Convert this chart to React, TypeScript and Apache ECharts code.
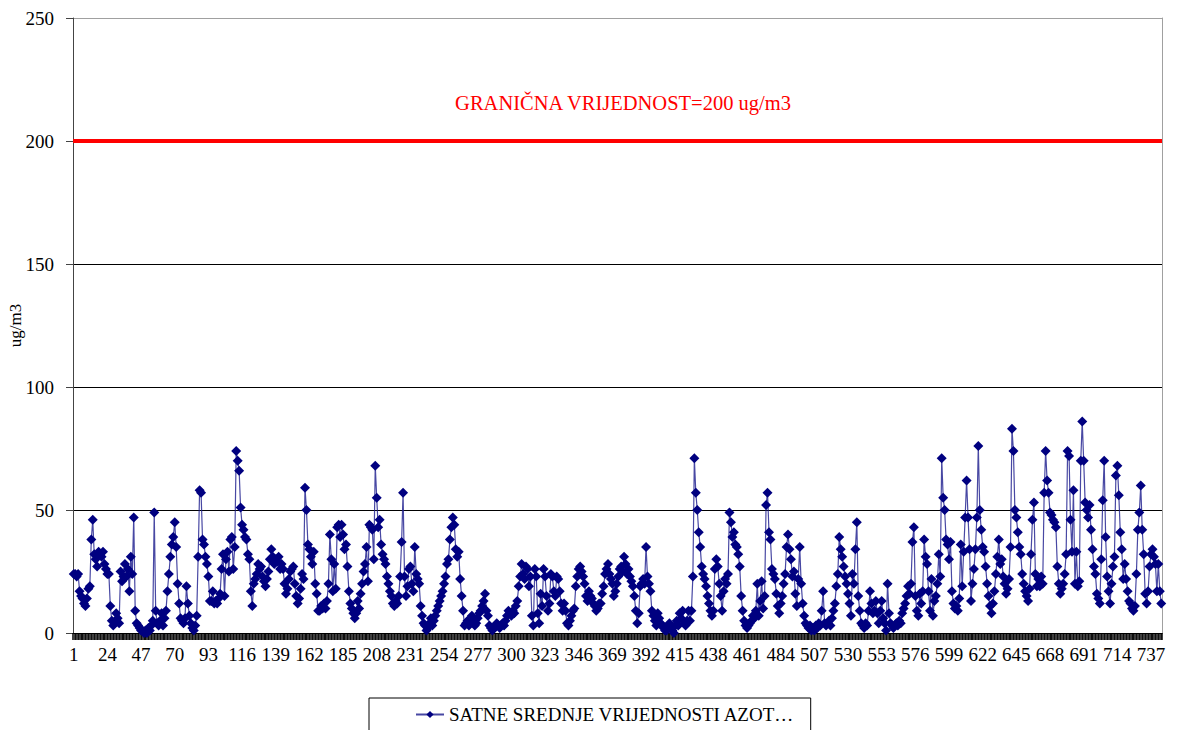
import React, { useEffect, useRef } from "react";
import * as echarts from "echarts";

// Hourly averages, one row per day (31 days x 24 hours)
const day01 = [24,24,23,24,17,15,14,12,11,14,18,19,38,46,32,30,27,33,32,31,33,28,26,24];
const day02 = [24,11,5,3,4,8,6,4,25,21,23,28,23,26,17,31,24,47,9,4,3,2,1,1];
const day03 = [0,1,0,2,1,3,5,49,9,4,3,5,8,3,6,9,17,24,31,36,39,45,35,20];
const day04 = [12,6,5,4,6,19,12,7,4,2,1,3,7,31,58,57,38,36,31,28,23,13,13,17];
const day05 = [12,13,12,14,16,26,32,15,30,33,25,38,39,26,35,74,70,66,51,44,42,39,38,32];
const day06 = [30,17,11,20,22,24,28,26,27,23,21,19,22,25,30,34,31,28,30,29,31,26,28,26];
const day07 = [20,16,18,22,25,26,27,20,15,12,14,18,24,22,59,50,36,34,31,28,33,20,16,9];
const day08 = [9,11,10,12,10,13,20,40,30,17,28,18,43,44,39,44,40,34,36,27,17,12,10,8];
const day09 = [6,8,13,10,16,20,25,28,35,21,44,43,42,30,68,55,43,46,36,32,30,28,23,20];
const day10 = [17,15,12,11,13,12,15,23,37,57,23,15,19,26,27,20,17,35,24,22,20,11,7,4];
const day11 = [3,1,2,4,6,3,5,7,9,11,13,15,17,20,23,28,30,38,43,47,44,34,31,33];
const day12 = [22,15,9,3,4,5,3,4,7,5,3,4,6,8,9,11,13,16,9,7,3,2,1,2];
const day13 = [3,4,3,2,3,4,3,5,7,9,8,7,9,8,11,13,19,23,28,24,22,27,26,19];
const day14 = [23,7,3,26,23,8,4,16,11,26,23,15,9,12,24,23,17,15,23,22,17,12,9,12];
const day15 = [9,4,3,5,7,9,10,19,23,26,27,25,23,20,15,13,17,15,14,12,11,9,10,12];
const day16 = [12,16,19,24,26,28,24,22,20,15,17,20,23,26,27,25,31,28,24,26,23,21,19,15];
const day17 = [9,4,8,19,20,22,20,35,23,20,17,9,7,5,3,8,6,4,3,2,1,1,3,4];
const day18 = [2,1,0,3,5,3,8,6,9,4,3,5,9,5,9,23,71,57,50,41,35,27,24,22];
const day19 = [19,15,12,9,7,9,26,30,27,20,15,9,17,22,20,24,49,45,39,41,36,35,32,27];
const day20 = [15,9,5,3,2,3,4,5,7,6,9,20,7,13,21,10,15,52,57,41,38,26,24,22];
const day21 = [16,11,8,12,15,20,24,35,40,34,30,23,25,16,11,22,35,20,12,7,4,3,2,3];
const day22 = [1,2,1,3,2,4,3,9,17,4,3,4,5,3,6,9,12,19,24,39,34,31,27,23];
const day23 = [20,16,12,7,24,20,34,45,15,9,4,3,2,4,3,9,17,12,8,9,13,8,4,9];
const day24 = [13,6,4,1,20,8,4,3,2,3,4,3,5,4,8,10,12,15,19,16,20,37,43,15];
const day25 = [9,7,16,12,17,38,31,28,17,9,22,7,13,15,20,32,23,71,55,50,38,36,30,37];
const day26 = [17,12,10,11,9,14,36,19,33,47,62,47,34,13,20,26,34,47,76,50,42,35,33,27];
const day27 = [20,15,11,8,12,17,24,31,38,28,30,23,20,16,18,22,35,83,74,50,47,41,35,32];
const day28 = [24,20,17,15,13,18,32,46,53,24,19,22,19,23,20,57,74,62,57,49,48,46,45,43];
const day29 = [27,20,16,18,20,24,32,74,72,46,33,58,20,33,19,21,70,86,70,53,50,47,52,42];
const day30 = [34,27,24,16,14,12,30,54,70,39,23,17,12,20,27,31,64,68,56,41,34,22,28,22];
const day31 = [17,13,12,10,9,11,24,42,49,60,42,32,16,12,17,27,32,34,31,28,17,28,17,12];

const hourlyValues: number[] = [
  ...day01, ...day02, ...day03, ...day04, ...day05, ...day06, ...day07, ...day08,
  ...day09, ...day10, ...day11, ...day12, ...day13, ...day14, ...day15, ...day16,
  ...day17, ...day18, ...day19, ...day20, ...day21, ...day22, ...day23, ...day24,
  ...day25, ...day26, ...day27, ...day28, ...day29, ...day30, ...day31,
];
const hourLabels: string[] = hourlyValues.map((_, i) => String(i + 1));

const seriesName = "SATNE SREDNJE VRIJEDNOSTI AZOT…";
const limitValue = 200;
const limitText = "GRANIČNA VRIJEDNOST=200 ug/m3";
const yAxisName = "ug/m3";
const yMin = 0;
const yMax = 250;
const yStep = 50;

const FONT = "Liberation Serif";

export default function App() {
  const ref = useRef<HTMLDivElement>(null);
  useEffect(() => {
    if (!ref.current) return;
    const chart = echarts.init(ref.current, null, { renderer: "svg" });
    chart.setOption({
      animation: false,
      backgroundColor: "#ffffff",
      textStyle: { fontFamily: FONT },
      grid: {
        left: 73,
        right: 15,
        top: 18,
        bottom: 97,
        containLabel: false,
        outerBoundsMode: "none",
      },
      graphic: [
        {
          type: "text",
          x: 623,
          y: 103,
          style: {
            text: limitText,
            fill: "#ff0000",
            fontFamily: FONT,
            fontSize: 20.5,
            textAlign: "center",
            textVerticalAlign: "middle",
          },
        },
      ],
      legend: {
        show: true,
        left: 369,
        top: 698,
        padding: [7, 16, 30, 46],
        borderColor: "#000",
        borderWidth: 1,
        itemWidth: 28,
        itemHeight: 9,
        itemGap: 4,
        textStyle: { fontFamily: FONT, fontSize: 19, color: "#000" },
        data: [seriesName],
      },
      xAxis: {
        type: "category",
        data: hourLabels,
        boundaryGap: true,
        axisLine: { show: true, lineStyle: { color: "#000", width: 1 } },
        axisTick: { show: true, interval: 0, length: 7, lineStyle: { color: "#000", width: 1.5 } },
        axisLabel: {
          interval: 22,
          margin: 12,
          color: "#000",
          fontFamily: FONT,
          fontSize: 19,
          hideOverlap: false,
        },
        splitLine: { show: false },
      },
      yAxis: [
        {
          type: "value",
          min: yMin,
          max: yMax,
          interval: yStep,
          name: yAxisName,
          nameLocation: "middle",
          nameGap: 49,
          nameRotate: 90,
          nameMoveOverlap: false,
          nameTextStyle: { fontFamily: FONT, fontSize: 17, color: "#000" },
          axisLine: { show: true, lineStyle: { color: "#444", width: 1 } },
          axisTick: { show: true, length: 7, lineStyle: { color: "#444" } },
          axisLabel: { color: "#000", fontFamily: FONT, fontSize: 19, margin: 19 },
          splitLine: {
            show: true,
            lineStyle: { color: ["#000", "#000", "#000", "#000", "#000", "#a0a0a0"], width: 1 },
          },
        },
        {
          type: "value",
          min: yMin,
          max: yMax,
          interval: yStep,
          position: "right",
          axisLine: { show: true, lineStyle: { color: "#a0a0a0", width: 1 } },
          axisTick: { show: false },
          axisLabel: { show: false },
          splitLine: { show: false },
        },
      ],
      series: [
        {
          name: seriesName,
          type: "line",
          data: hourlyValues,
          yAxisIndex: 0,
          symbol: "diamond",
          symbolSize: 10,
          showAllSymbol: true,
          color: "#000080",
          itemStyle: { color: "#000080" },
          lineStyle: { color: "#1a1a8c", width: 1.2, opacity: 0.8 },
          markLine: {
            silent: true,
            symbol: ["none", "none"],
            label: { show: false },
            lineStyle: { color: "#ff0000", width: 4, type: "solid" },
            data: [{ yAxis: limitValue }],
          },
        },
      ],
    });
    return () => chart.dispose();
  }, []);
  return (
    <div
      ref={ref}
      style={{ position: "fixed", left: 0, top: 0, width: 1177, height: 730, background: "#fff" }}
    />
  );
}
